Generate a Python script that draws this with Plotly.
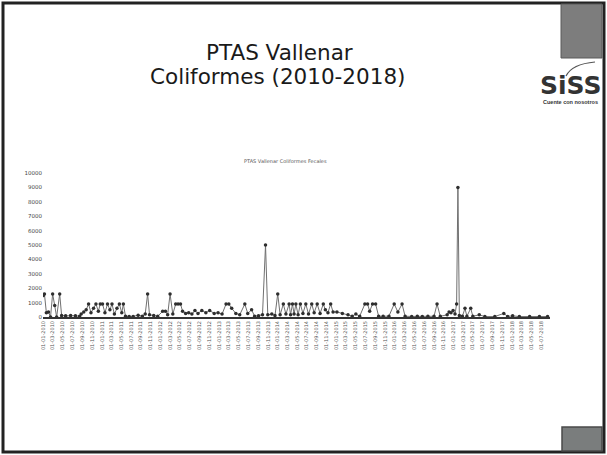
import plotly.graph_objects as go

# Sampling dates and fecal coliform results (NMP/100 ml), PTAS Vallenar
fechas_2010 = ["2010-01-01", "2010-01-08", "2010-01-20", "2010-02-02", "2010-02-15", "2010-02-28",
               "2010-03-13", "2010-03-25", "2010-04-13", "2010-04-25", "2010-05-20", "2010-06-20",
               "2010-07-20", "2010-08-15", "2010-08-25", "2010-09-10", "2010-09-25", "2010-10-10",
               "2010-10-25", "2010-11-10", "2010-11-25", "2010-12-10", "2010-12-22"]
valores_2010 = [1500, 1600, 300, 350, 0, 1600,
                800, 0, 1600, 100, 80, 100,
                90, 50, 200, 350, 500, 900,
                300, 600, 900, 400, 900]

fechas_2011 = ["2011-01-05", "2011-01-20", "2011-02-05", "2011-02-20", "2011-03-05", "2011-03-20",
               "2011-04-05", "2011-04-20", "2011-05-05", "2011-05-15", "2011-05-28", "2011-06-20",
               "2011-07-15", "2011-08-15", "2011-09-10", "2011-09-28", "2011-10-13", "2011-10-25",
               "2011-11-20", "2011-12-15"]
valores_2011 = [900, 300, 900, 500, 900, 200,
                600, 900, 300, 900, 50, 30,
                40, 120, 60, 200, 1600, 150,
                100, 50]

fechas_2012 = ["2012-01-15", "2012-02-01", "2012-02-15", "2012-03-01", "2012-03-18", "2012-04-05",
               "2012-04-20", "2012-05-05", "2012-05-18", "2012-06-06", "2012-06-25", "2012-07-15",
               "2012-08-03", "2012-08-22", "2012-09-15", "2012-10-10", "2012-11-03", "2012-12-01",
               "2012-12-25"]
valores_2012 = [400, 400, 150, 1600, 200, 900,
                900, 900, 400, 250, 300, 200,
                450, 250, 450, 300, 450, 250,
                300]

fechas_2013 = ["2013-01-19", "2013-02-13", "2013-03-02", "2013-03-20", "2013-04-15", "2013-05-09",
               "2013-06-10", "2013-06-28", "2013-07-22", "2013-08-10", "2013-09-03", "2013-09-28",
               "2013-10-17", "2013-10-31", "2013-11-25", "2013-12-15"]
valores_2013 = [200, 900, 900, 600, 250, 150,
                900, 250, 500, 50, 80, 150,
                5000, 150, 200, 100]

fechas_2014 = ["2014-01-01", "2014-01-16", "2014-02-05", "2014-02-21", "2014-03-13", "2014-03-22",
               "2014-04-03", "2014-04-13", "2014-04-24", "2014-05-08", "2014-05-22", "2014-06-07",
               "2014-06-25", "2014-07-12", "2014-08-01", "2014-08-16", "2014-09-04", "2014-09-22",
               "2014-10-12", "2014-10-25", "2014-11-10", "2014-11-27", "2014-12-12"]
valores_2014 = [1600, 150, 900, 200, 900, 150,
                900, 200, 900, 150, 900, 250,
                900, 200, 900, 300, 900, 250,
                900, 500, 300, 900, 350]

fechas_2015 = ["2015-01-05", "2015-02-08", "2015-03-15", "2015-04-10", "2015-05-03", "2015-05-27",
               "2015-06-28", "2015-07-15", "2015-07-28", "2015-08-15", "2015-09-03", "2015-09-22",
               "2015-10-20", "2015-11-25", "2015-12-28"]
valores_2015 = [350, 250, 150, 60, 200, 60,
                900, 900, 400, 900, 900, 50,
                50, 60, 900]

fechas_2016 = ["2016-01-20", "2016-02-15", "2016-03-05", "2016-04-15", "2016-05-20", "2016-06-20",
               "2016-07-25", "2016-09-01", "2016-09-20", "2016-10-10", "2016-11-22", "2016-12-04",
               "2016-12-16", "2016-12-29"]
valores_2016 = [350, 900, 50, 40, 50, 40,
                50, 50, 900, 50, 150, 350,
                300, 450]

fechas_2017 = ["2017-01-10", "2017-01-20", "2017-01-28", "2017-02-06", "2017-02-25", "2017-03-13",
               "2017-03-25", "2017-04-18", "2017-05-01", "2017-06-10", "2017-07-15", "2017-09-15",
               "2017-11-10", "2017-12-04"]
valores_2017 = [200, 900, 9000, 100, 50, 600,
                50, 600, 50, 150, 30, 30,
                250, 40]

fechas_2018 = ["2018-01-04", "2018-02-15", "2018-04-20", "2018-06-20", "2018-08-10"]
valores_2018 = [80, 30, 30, 30, 30]

fechas = (fechas_2010 + fechas_2011 + fechas_2012 + fechas_2013 + fechas_2014
          + fechas_2015 + fechas_2016 + fechas_2017 + fechas_2018)
valores = (valores_2010 + valores_2011 + valores_2012 + valores_2013 + valores_2014
           + valores_2015 + valores_2016 + valores_2017 + valores_2018)

y_ticks = [0, 1000, 2000, 3000, 4000, 5000, 6000, 7000, 8000, 9000, 10000]

W, H = 607, 455
PL, PR, PT, PB = 43, 550, 173, 317   # plot area in pixels


def px(xp):
    return (xp - PL) / (PR - PL)


def py(yp):
    return (PB - yp) / (PB - PT)


fig = go.Figure()
fig.add_trace(go.Scatter(
    x=fechas, y=valores, mode="lines+markers",
    line=dict(color="#707070", width=1),
    marker=dict(color="#2e2e2e", size=3.5),
    showlegend=False,
))

shapes = [
    # slide frame
    dict(type="rect", xref="paper", yref="paper", x0=px(3), x1=px(604), y0=py(452), y1=py(3),
         line=dict(color="#222222", width=3), fillcolor="rgba(0,0,0,0)", layer="below"),
    # grey corner blocks
    dict(type="rect", xref="paper", yref="paper", x0=px(561), x1=px(602), y0=py(58), y1=py(4),
         line=dict(color="#5a5a5a", width=1), fillcolor="#7d7d7d", layer="below"),
    dict(type="rect", xref="paper", yref="paper", x0=px(562), x1=px(602), y0=py(451), y1=py(427),
         line=dict(color="#4a4a4a", width=1.5), fillcolor="#7a7d7d", layer="below"),
    # logo swoosh
    dict(type="path", xref="paper", yref="paper",
         path=f"M {px(566)},{py(76)} Q {px(572)},{py(64)} {px(595)},{py(62)}",
         line=dict(color="#555555", width=1.2)),
]


def texto(t, xp, yp, size, family="DejaVu Sans", color="#1a1a1a"):
    return dict(text=t, x=px(xp), y=py(yp), xref="paper", yref="paper",
                xanchor="center", yanchor="middle", showarrow=False,
                font=dict(family=family, size=size, color=color))


annotations = [
    texto("PTAS Vallenar", 279, 52, 21.5),
    texto("Coliformes (2010-2018)", 277, 77, 21.5),
    texto("<b>SiSS</b>", 570, 85, 25, color="#333333"),
    texto("<b>Cuente con nosotros</b>", 570, 102, 5.5, family="Liberation Sans", color="#333333"),
    texto("PTAS Vallenar Coliformes Fecales", 285, 161, 5, color="#555555"),
]

fig.update_layout(
    width=W, height=H,
    margin=dict(l=PL, r=W - PR, t=PT, b=H - PB, pad=0),
    paper_bgcolor="white", plot_bgcolor="white",
    shapes=shapes, annotations=annotations,
    xaxis=dict(
        type="date", range=["2009-12-30", "2018-08-25"],
        tickmode="linear", tick0="2010-01-01", dtick="M2",
        tickformat="%d-%m-%Y", tickangle=-90,
        tickfont=dict(family="DejaVu Sans", size=5, color="#555555"),
        showgrid=False, zeroline=False,
        showline=True, linecolor="#333333", linewidth=2,
        ticks="", fixedrange=True,
    ),
    yaxis=dict(
        range=[0, 10000], tickmode="array", tickvals=y_ticks,
        ticktext=[str(v) for v in y_ticks],
        tickfont=dict(family="DejaVu Sans", size=5.5, color="#444444"),
        showgrid=False, zeroline=False, showline=False, ticks="",
    ),
)

fig.write_html("out.html")
